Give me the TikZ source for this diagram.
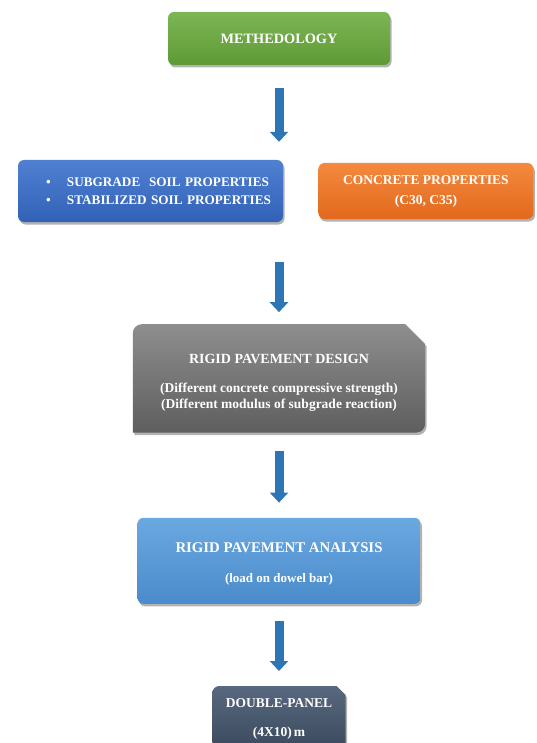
\documentclass[tikz,border=0pt]{standalone}
\usepackage{fontspec}
\setmainfont{Liberation Serif}
\usetikzlibrary{arrows.meta, positioning, shadows, backgrounds}
\definecolor{flechaAzul}{HTML}{2E75B6}
\definecolor{verdeA}{HTML}{7CB655}
\definecolor{verdeB}{HTML}{5E9A34}
\definecolor{azulA}{HTML}{4F80D2}
\definecolor{azulB}{HTML}{3262B6}
\definecolor{naranjaA}{HTML}{F4893E}
\definecolor{naranjaB}{HTML}{E2691D}
\definecolor{grisA}{HTML}{8E8E8E}
\definecolor{grisB}{HTML}{5E5E5E}
\definecolor{celesteA}{HTML}{6AA8E0}
\definecolor{celesteB}{HTML}{4A8BCB}
\definecolor{pizarraA}{HTML}{58687E}
\definecolor{pizarraB}{HTML}{3A495D}

\begin{document}
\begin{tikzpicture}[
  x=1pt, y=1pt,
  font=\bfseries\fontsize{13.5}{16}\selectfont,
  sombra/.style={drop shadow={shadow xshift=1.5pt, shadow yshift=-2.5pt, opacity=.3, fill=black}},
  caja/.style={text=white, align=center, inner sep=0pt},
  redonda/.style={caja, rounded corners=6pt, sombra},
  flecha/.style={-{Triangle[width=18pt, length=10pt]}, draw=flechaAzul, line width=9pt}
]
\useasboundingbox (0,0) rectangle (536,-743);

\node[redonda, top color=verdeA, bottom color=verdeB,
      minimum width=222pt, minimum height=53pt,
      font=\bfseries\fontsize{14.3}{16}\selectfont] (meth) at (279,-38.5) {METHEDOLOGY};

\node[redonda, top color=azulA, bottom color=azulB,
      minimum width=265pt, minimum height=62pt, align=left,
      text width=265pt, font=\bfseries\fontsize{13.2}{18}\selectfont] (soil) at (150.5,-191)
  {\mbox{\hspace*{28pt}\makebox[21pt][l]{\textbullet}SUBGRADE\ \ SOIL PROPERTIES}\\
   \mbox{\hspace*{28pt}\makebox[21pt][l]{\textbullet}STABILIZED SOIL PROPERTIES}};
\node[redonda, top color=naranjaA, bottom color=naranjaB,
      minimum width=215pt, minimum height=56pt,
      font=\bfseries\fontsize{13.5}{20}\selectfont, right=35pt of soil] (conc)
  {CONCRETE PROPERTIES\\(C30, C35)};

\node[caja, minimum width=292pt, minimum height=108pt, below=259pt of meth] (design)
  {\rule{0pt}{19pt}\fontsize{14}{16}\selectfont RIGID PAVEMENT DESIGN\\[13pt]
   \fontsize{13.5}{16}\selectfont
   (Different concrete compressive strength)\\
   (Different modulus of subgrade reaction)};
\node[redonda, top color=celesteA, bottom color=celesteB,
      minimum width=283pt, minimum height=86pt, below=85pt of design] (analysis)
  {\rule{0pt}{17pt}\fontsize{14.8}{16}\selectfont RIGID PAVEMENT ANALYSIS\\[14pt]
   \fontsize{13}{14}\selectfont (load on dowel bar)};
\node[caja, minimum width=133pt, minimum height=65pt, below=82pt of analysis] (panel)
  {DOUBLE-PANEL\\[13pt](4X10)\,m};

% Cajas con una esquina recortada, detras del texto.
\begin{scope}[on background layer]
\path[top color=grisA, bottom color=grisB, sombra]
  (design.south west) -- ([yshift=-9pt]design.north west)
  arc[start angle=180, end angle=90, radius=9pt]
  -- ([xshift=-20pt]design.north east) -- ([yshift=-20pt]design.north east)
  -- ([yshift=9pt]design.south east) arc[start angle=0, end angle=-90, radius=9pt]
  -- cycle;
\path[top color=pizarraA, bottom color=pizarraB, sombra]
  (panel.south west) -- ([yshift=-7pt]panel.north west)
  arc[start angle=180, end angle=90, radius=7pt]
  -- ([xshift=-9pt]panel.north east) -- ([yshift=-9pt]panel.north east)
  -- (panel.south east) -- cycle;
\end{scope}

\coordinate (filaSup) at (meth.south |- soil.north);
\coordinate (filaInf) at (meth.south |- soil.south);

\draw[flecha, shorten <=23pt, shorten >=18pt] (meth.south) -- (filaSup);
\draw[flecha, shorten <=40pt, shorten >=12pt] (filaInf) -- (design.north);
\draw[flecha, shorten <=18pt, shorten >=15pt] (design.south) -- (analysis.north);
\draw[flecha, shorten <=17pt, shorten >=15pt] (analysis.south) -- (panel.north);

\end{tikzpicture}
\end{document}
